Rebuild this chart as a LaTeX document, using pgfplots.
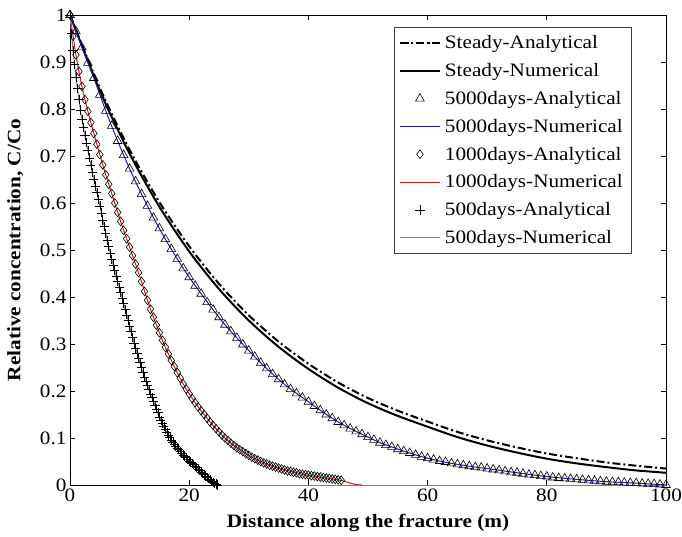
\documentclass[border=0pt]{standalone}
\usepackage{fontspec}
\setmainfont[FakeStretch=1.12]{Liberation Serif}
\usepackage{pgfplots}
\pgfplotsset{compat=1.18}
\pgfplotsset{
  legend image code/.code={\draw[mark repeat=2,mark phase=2,#1] plot coordinates {(0bp,0bp) (20bp,0bp) (40bp,0bp)};}
}
\definecolor{nblue}{rgb}{0.12,0.12,0.62}
\definecolor{nred}{rgb}{0.78,0.12,0.12}
\definecolor{ngray}{rgb}{0.5,0.5,0.5}
\begin{document}
\begin{tikzpicture}
\begin{axis}[
  scale only axis, width=596bp, height=470bp,
  xmin=0, xmax=100, ymin=0, ymax=1,
  xtick={0,20,40,60,80,100},
  ytick={0,0.1,0.2,0.3,0.4,0.5,0.6,0.7,0.8,0.9,1},
  yticklabels={0,0.1,0.2,0.3,0.4,0.5,0.6,0.7,0.8,0.9,1},
  xticklabels={0,20,40,60,80,100},
  tick align=inside, major tick length=5bp,
  axis line style={line width=0.8bp},
  every tick/.style={black, line width=0.7bp},
  ticklabel style={font=\fontsize{19}{23}\selectfont},
  xlabel={Distance along the fracture (m)},
  ylabel={Relative concentration, C/Co},
  label style={font=\bfseries\fontsize{19}{23}\selectfont},
  xlabel style={at={(axis description cs:0.5,-0.081)}, anchor=center},
  ylabel style={at={(axis description cs:-0.092,0.5)}, anchor=center, rotate=0},
  legend style={at={(axis description cs:0.943,0.974)}, anchor=north east,
    draw=black!75, line width=0.6bp, font=\fontsize{19}{23}\selectfont,
    nodes={inner xsep=4bp, inner ysep=6.6bp}, inner xsep=5bp, inner ysep=1.5bp},
  legend cell align=left,
]
% Steady analytical
\addplot[black, line width=2bp, dash pattern=on 8bp off 3bp on 2bp off 3bp, smooth] coordinates {
(0,1.000) (5,0.845) (10,0.713) (15,0.602) (20,0.508) (25,0.428) (30,0.361) (35,0.305) (40,0.258) (45,0.218) (50,0.185) (55,0.158) (60,0.135) (65,0.113) (70,0.095) (75,0.080) (80,0.067) (85,0.057) (90,0.048) (95,0.041) (100,0.035)};
\addlegendentry{Steady-Analytical}
% Steady numerical
\addplot[black, line width=2bp, smooth] coordinates {
(0,1.000) (5,0.839) (10,0.705) (15,0.592) (20,0.497) (25,0.417) (30,0.350) (35,0.294) (40,0.247) (45,0.207) (50,0.174) (55,0.147) (60,0.124) (65,0.102) (70,0.084) (75,0.069) (80,0.056) (85,0.046) (90,0.038) (95,0.031) (100,0.026)};
\addlegendentry{Steady-Numerical}
% 5000 days analytical
\addplot[only marks, mark=triangle, mark size=5bp, mark options={black, line width=0.6bp}] coordinates {
(0,1.000) (1,0.965) (2,0.931) (3,0.898) (4,0.866) (5,0.830) (6,0.796) (7,0.764) (8,0.732) (9,0.702)
(10,0.673) (11,0.646) (12,0.619) (13,0.594) (14,0.569) (15,0.546) (16,0.523) (17,0.502) (18,0.481) (19,0.461)
(20,0.442) (21,0.424) (22,0.407) (23,0.389) (24,0.373) (25,0.357) (26,0.341) (27,0.327) (28,0.313) (29,0.299)
(30,0.286) (31,0.273) (32,0.260) (33,0.248) (34,0.236) (35,0.225) (36,0.214) (37,0.204) (38,0.195) (39,0.186)
(40,0.177) (41,0.168) (42,0.159) (43,0.150) (44,0.142) (45,0.134) (46,0.127) (47,0.120) (48,0.114) (49,0.108)
(50,0.102) (51,0.096) (52,0.090) (53,0.085) (54,0.081) (55,0.076) (56,0.072) (57,0.068) (58,0.064) (59,0.060)
(60,0.057) (61,0.054) (62,0.051) (63,0.049) (64,0.046) (65,0.044) (66,0.042) (67,0.040) (68,0.038) (69,0.037)
(70,0.035) (71,0.033) (72,0.031) (73,0.029) (74,0.027) (75,0.026) (76,0.024) (77,0.022) (78,0.021) (79,0.019)
(80,0.018) (81,0.016) (82,0.015) (83,0.014) (84,0.013) (85,0.012) (86,0.011) (87,0.010) (88,0.009) (89,0.008)
(90,0.007) (91,0.0065) (92,0.006) (93,0.005) (94,0.0045) (95,0.004) (96,0.003) (97,0.0025) (98,0.002) (99,0.001) (100,0.000)};
\addlegendentry{5000days-Analytical}
% 5000 days numerical
\addplot[nblue, line width=1bp, smooth] coordinates {
(0,1.000) (2,0.931) (4,0.866) (6,0.796) (8,0.732) (10,0.673) (12,0.619) (14,0.569) (16,0.523) (18,0.481)
(20,0.442) (22,0.407) (24,0.373) (26,0.341) (28,0.313) (30,0.286) (32,0.260) (34,0.236) (36,0.214) (38,0.195)
(40,0.177) (42,0.159) (44,0.142) (46,0.127) (48,0.114) (50,0.102) (52,0.090) (54,0.081) (56,0.072) (58,0.064)
(60,0.057) (62,0.051) (64,0.046) (66,0.042) (68,0.038) (70,0.035) (75,0.026) (80,0.018) (85,0.012) (90,0.007) (95,0.004) (100,0.000)};
\addlegendentry{5000days-Numerical}
% 1000 days analytical
\addplot[only marks, mark=diamond, mark size=4.4bp, mark options={black, line width=0.6bp}] coordinates {
(0,1.000) (0.5,0.955) (1,0.915) (1.5,0.880) (2,0.848) (2.5,0.820) (3,0.795) (3.5,0.771) (4,0.748) (4.5,0.725)
(5,0.703) (5.5,0.681) (6,0.660) (6.5,0.640) (7,0.620) (7.5,0.600) (8,0.580) (8.5,0.561) (9,0.542) (9.5,0.524)
(10,0.506) (10.5,0.488) (11,0.470) (11.5,0.452) (12,0.433) (12.5,0.412) (13,0.393) (13.5,0.374) (14,0.357) (14.5,0.340)
(15,0.324) (15.5,0.308) (16,0.293) (16.5,0.279) (17,0.265) (17.5,0.252) (18,0.239) (18.5,0.227) (19,0.215) (19.5,0.204)
(20,0.194) (20.5,0.184) (21,0.175) (21.5,0.166) (22,0.158) (22.5,0.150) (23,0.142) (23.5,0.134) (24,0.127) (24.5,0.120)
(25,0.113) (25.5,0.106) (26,0.100) (26.5,0.095) (27,0.089) (27.5,0.084) (28,0.079) (28.5,0.075) (29,0.071) (29.5,0.067)
(30,0.063) (30.5,0.059) (31,0.056) (31.5,0.053) (32,0.050) (32.5,0.047) (33,0.045) (33.5,0.042) (34,0.040) (34.5,0.038)
(35,0.036) (35.5,0.034) (36,0.032) (36.5,0.030) (37,0.029) (37.5,0.027) (38,0.026) (38.5,0.024) (39,0.023) (39.5,0.022)
(40,0.021) (40.5,0.020) (41,0.019) (41.5,0.018) (42,0.017) (42.5,0.016) (43,0.015) (43.5,0.014) (44,0.013) (44.5,0.012)
(45,0.011) (45.5,0.010)};
\addlegendentry{1000days-Analytical}
% 1000 days numerical
\addplot[nred, line width=1bp, smooth] coordinates {
(0,1.000) (1,0.915) (2,0.848) (3,0.795) (4,0.748) (5,0.703) (6,0.660) (7,0.620) (8,0.580) (9,0.542)
(10,0.506) (11,0.470) (12,0.433) (13,0.393) (14,0.357) (15,0.324) (16,0.293) (17,0.265) (18,0.239) (19,0.215)
(20,0.194) (21,0.175) (22,0.158) (23,0.142) (24,0.127) (25,0.113) (26,0.100) (27,0.089) (28,0.079) (29,0.071)
(30,0.063) (31,0.056) (32,0.050) (33,0.045) (34,0.040) (35,0.036) (36,0.032) (37,0.029) (38,0.026) (39,0.023)
(40,0.021) (41,0.019) (42,0.017) (43,0.015) (44,0.013) (45,0.011) (46,0.008) (47,0.004) (48,0.001) (49,0.000)};
\addlegendentry{1000days-Numerical}
% 500 days analytical
\addplot[only marks, mark=+, mark size=4.6bp, mark options={black, line width=0.6bp}] coordinates {
(0,1.000) (0.25,0.960) (0.5,0.925) (0.75,0.895) (1,0.868) (1.25,0.843) (1.5,0.820) (1.75,0.798)
(2,0.778) (2.25,0.761) (2.5,0.744) (2.75,0.728) (3,0.712) (3.25,0.696) (3.5,0.681) (3.75,0.665)
(4,0.650) (4.25,0.636) (4.5,0.622) (4.75,0.608) (5,0.594) (5.25,0.579) (5.5,0.564) (5.75,0.550)
(6,0.535) (6.25,0.521) (6.5,0.507) (6.75,0.493) (7,0.480) (7.25,0.468) (7.5,0.456) (7.75,0.445)
(8,0.433) (8.25,0.421) (8.5,0.409) (8.75,0.398) (9,0.386) (9.25,0.374) (9.5,0.362) (9.75,0.350)
(10,0.338) (10.25,0.326) (10.5,0.314) (10.75,0.302) (11,0.291) (11.25,0.280) (11.5,0.270) (11.75,0.260)
(12,0.250) (12.25,0.240) (12.5,0.230) (12.75,0.221) (13,0.212) (13.25,0.203) (13.5,0.194) (13.75,0.186)
(14,0.178) (14.25,0.170) (14.5,0.162) (14.75,0.154) (15,0.145) (15.25,0.138) (15.5,0.131) (15.75,0.124)
(16,0.118) (16.25,0.112) (16.5,0.106) (16.75,0.101) (17,0.096) (17.25,0.091) (17.5,0.087) (17.75,0.083)
(18,0.079) (18.25,0.075) (18.5,0.071) (18.75,0.068) (19,0.064) (19.25,0.061) (19.5,0.058) (19.75,0.054)
(20,0.051) (20.25,0.048) (20.5,0.046) (20.75,0.043) (21,0.040) (21.25,0.037) (21.5,0.034) (21.75,0.031)
(22,0.028) (22.25,0.025) (22.5,0.022) (22.75,0.019) (23,0.016) (23.25,0.013) (23.5,0.011) (23.75,0.008)
(24,0.006) (24.25,0.004) (24.5,0.002) (24.75,0.000)};
\addlegendentry{500days-Analytical}
% 500 days numerical
\addplot[ngray, line width=1bp, smooth] coordinates {
(0,1.000) (0.5,0.925) (1,0.868) (1.5,0.820) (2,0.778) (3,0.712) (4,0.650) (5,0.594) (6,0.535) (7,0.480)
(8,0.433) (9,0.386) (10,0.338) (11,0.291) (12,0.250) (13,0.212) (14,0.178) (15,0.145) (16,0.118) (17,0.096)
(18,0.079) (19,0.064) (20,0.051) (21,0.040) (22,0.028) (23,0.016) (24,0.006) (24.75,0.000) (25.5,0.000)};
\addlegendentry{500days-Numerical}
\addplot[ngray, line width=1bp, forget plot] coordinates {(25.5,0) (100,0)};
\end{axis}
\pgfresetboundingbox
\path[use as bounding box] (-70bp,-52bp) rectangle (612bp,485bp);
\end{tikzpicture}
\end{document}
